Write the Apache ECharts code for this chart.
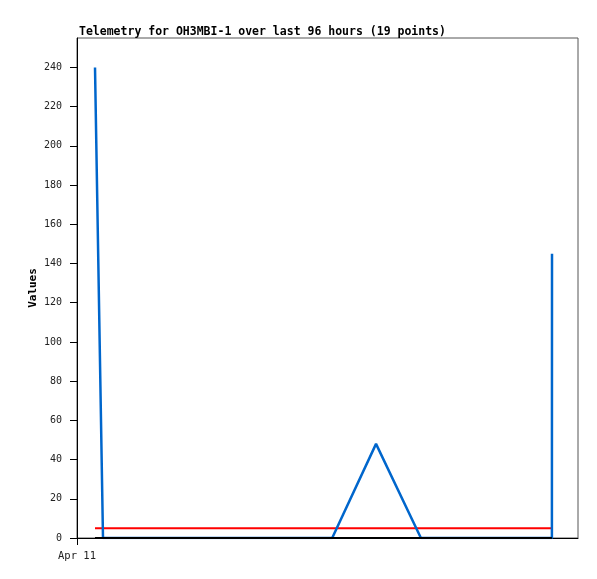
<!DOCTYPE html>
<html><head><meta charset="utf-8">
<script src="https://cdn.jsdelivr.net/npm/echarts@6/dist/echarts.min.js"></script>
<style>html,body{margin:0;padding:0;background:#fff}#c{width:597px;height:579px}</style>
</head><body><div id="c"></div>
<script>
// hours after Apr 11 00:00
const hours = [3.45, 4.98, 10, 16, 22, 28, 34, 40, 45, 48.9, 57.3, 65.9, 70, 75, 80, 85, 88, 91.0, 91.02];
const values = [240, 0, 0, 0, 0, 0, 0, 0, 0, 0, 48, 0, 0, 0, 0, 0, 0, 0, 145];
const limitValues = [5, 5, 5, 5, 5, 5, 5, 5, 5, 5, 5, 5, 5, 5, 5, 5, 5, 5, 5];
const baseValues = [0, 0, 0, 0, 0, 0, 0, 0, 0, 0, 0, 0, 0, 0, 0, 0, 0, 0, 0];
const yTicks = [0, 20, 40, 60, 80, 100, 120, 140, 160, 180, 200, 220, 240];
const xLabel = 'Apr 11';
const titleText = 'Telemetry for OH3MBI-1 over last 96 hours (19 points)';

const pair = (vals) => hours.map((h, i) => [h, vals[i]]);
const chart = echarts.init(document.getElementById('c'));
const mono = '"DejaVu Sans Mono", monospace';
chart.setOption({
  animation: false,
  title: { text: titleText, left: 74, top: 21,
    textStyle: { fontFamily: mono, fontSize: 11.5, fontWeight: 'bold', color: '#000' } },
  grid: { left: 77, right: 19, top: 38, bottom: 41, show: true, borderColor: '#555', borderWidth: 1 },
  xAxis: { type: 'value', min: 0, max: 96,
    axisLine: { lineStyle: { color: '#000', width: 1 } },
    axisTick: { show: true, length: 7, customValues: [0], lineStyle: { color: '#000' } },
    axisLabel: { customValues: [0], formatter: () => xLabel, fontFamily: mono, fontSize: 10.5, color: '#222', margin: 13 },
    splitLine: { show: false } },
  yAxis: { type: 'value', min: 0, max: 255, name: 'Values', nameLocation: 'middle', nameGap: 38,
    nameMoveOverlap: false,
    nameTextStyle: { fontFamily: mono, fontSize: 11, fontWeight: 'bold', color: '#000' },
    axisLine: { show: true, lineStyle: { color: '#000', width: 1 } },
    axisTick: { show: true, length: 7, customValues: yTicks, lineStyle: { color: '#000' } },
    axisLabel: { customValues: yTicks, fontFamily: mono, fontSize: 10, color: '#222', margin: 15 },
    splitLine: { show: false } },
  series: [
    { type: 'line', data: pair(baseValues), showSymbol: false, lineStyle: { color: '#000', width: 2 }, z: 3 },
    { type: 'line', data: pair(limitValues), showSymbol: false, lineStyle: { color: '#ff0000', width: 2 }, z: 2 },
    { type: 'line', data: pair(values), showSymbol: false, lineStyle: { color: '#0066cc', width: 2.5 }, z: 2 }
  ]
});
</script></body></html>
